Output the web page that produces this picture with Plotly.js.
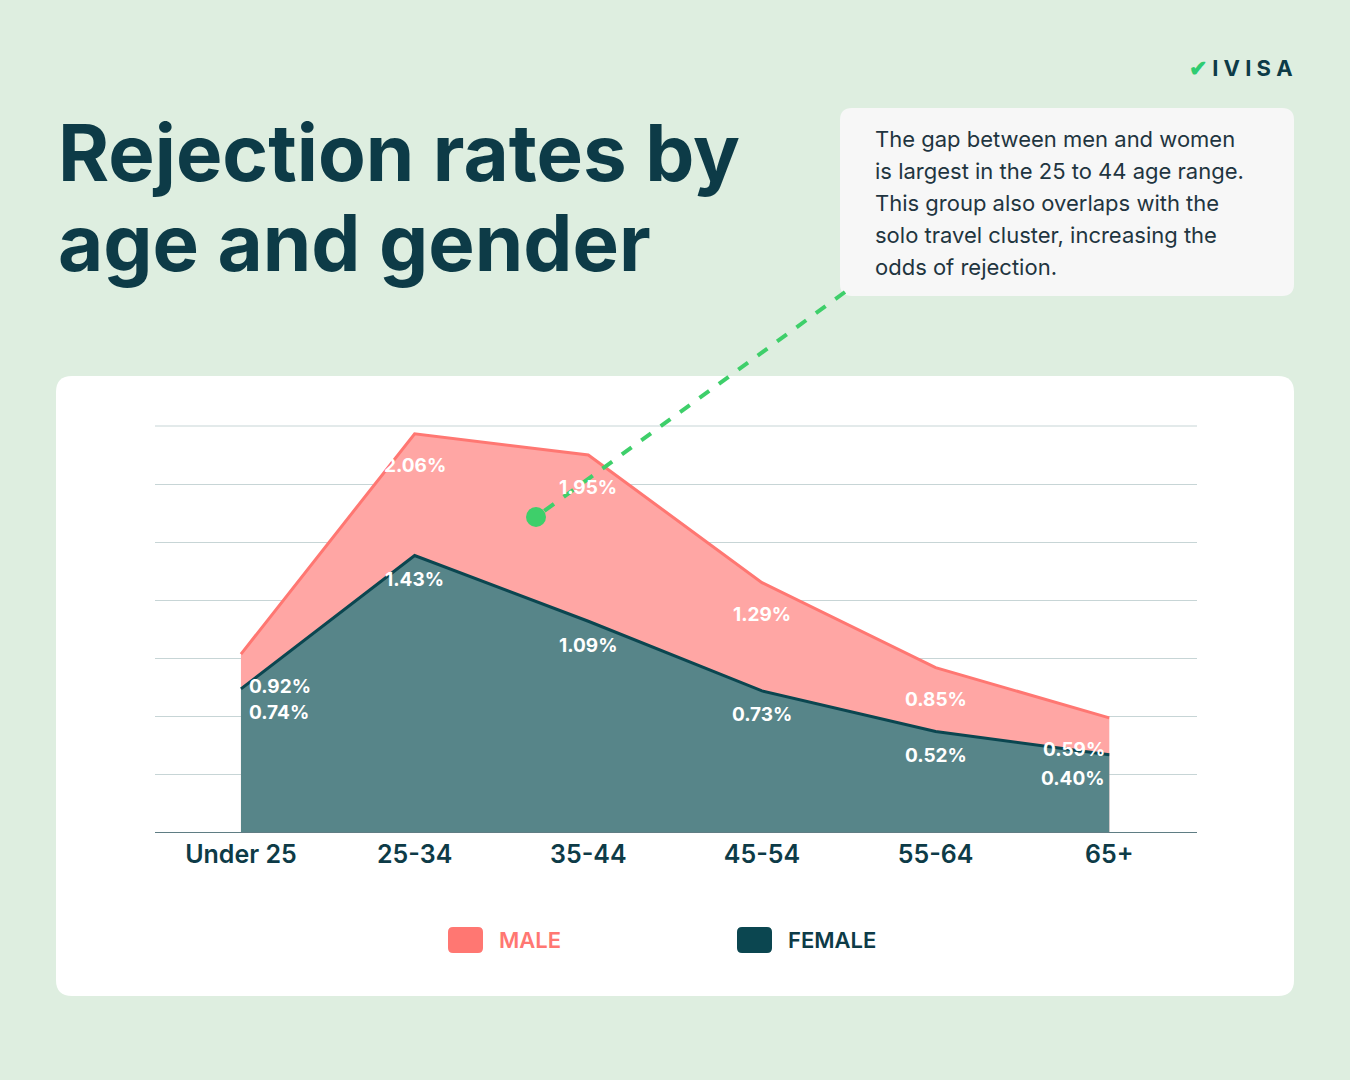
<!DOCTYPE html>
<html><head><meta charset="utf-8">
<script src="https://cdn.plot.ly/plotly-3.0.1.min.js"></script>
<style>body{margin:0;background:#deeee0}</style>
</head><body>
<div id="chart"></div>
<script>
// data
const ageGroups = ['Under 25', '25-34', '35-44', '45-54', '55-64', '65+'];
const maleRates = [0.92, 2.06, 1.95, 1.29, 0.85, 0.59];
const femaleRates = [0.74, 1.43, 1.09, 0.73, 0.52, 0.40];
const noteLines = ['The gap between men and women', 'is largest in the 25 to 44 age range.',
    'This group also overlaps with the', 'solo travel cluster, increasing the', 'odds of rejection.'];

// plot area in pixels: x 155..1197, y 426..832
const px = x => (x - 155) / 1042;
const py = y => (832 - y) / 406;
const FONT = 'Inter, "Noto Sans", sans-serif';
const DARK = '#0d3b47';

function roundRect(x0, y0, x1, y1, r, fill) {
    let a = px(x0), b = px(x1), c = py(y0), d = py(y1);
    let rx = r / 1042, ry = r / 406;
    let path = `M${a+rx},${c} L${b-rx},${c} Q${b},${c} ${b},${c-ry} L${b},${d+ry} Q${b},${d} ${b-rx},${d}` +
               ` L${a+rx},${d} Q${a},${d} ${a},${d+ry} L${a},${c-ry} Q${a},${c} ${a+rx},${c} Z`;
    return {type:'path', xref:'paper', yref:'paper', path:path, fillcolor:fill, line:{width:0}, layer:'below'};
}

let traces = [
    {x:ageGroups, y:maleRates, type:'scatter', mode:'lines', fill:'tozeroy',
     fillcolor:'#ffa6a4', line:{color:'#ff7772', width:3}, hoverinfo:'skip'},
    {x:ageGroups, y:femaleRates, type:'scatter', mode:'lines', fill:'tozeroy',
     fillcolor:'#578589', line:{color:'#0b4650', width:3}, hoverinfo:'skip'}
];

let annotations = [];
ageGroups.forEach((g, i) => {
    let anchor = i === 0 ? 'left' : (i === ageGroups.length - 1 ? 'right' : 'center');
    let xs = i === 0 ? 6 : (i === ageGroups.length - 1 ? -2 : 0);
    annotations.push({x:g, y:maleRates[i], text:maleRates[i].toFixed(2)+'%', showarrow:false,
        xanchor:anchor, xshift:xs, yshift:-32, font:{family:FONT, size:19, color:'white', weight:700}});
    annotations.push({x:g, y:femaleRates[i], text:femaleRates[i].toFixed(2)+'%', showarrow:false,
        xanchor:anchor, xshift:xs, yshift:-24, font:{family:FONT, size:19, color:'white', weight:700}});
});
['Rejection rates by', 'age and gender'].forEach((t, i) => {
    annotations.push({xref:'paper', yref:'paper', x:px(56), y:py(152 + i*90), xanchor:'left', yanchor:'middle',
        text:t, showarrow:false, font:{family:FONT, size:78, color:DARK, weight:700}});
});
noteLines.forEach((t, i) => {
    annotations.push({xref:'paper', yref:'paper', x:px(873), y:py(139 + i*32), xanchor:'left', yanchor:'middle',
        text:t, showarrow:false, font:{family:FONT, size:22, color:'#1f3540'}});
});
annotations.push(
    {xref:'paper', yref:'paper', x:px(1295), y:py(68), xanchor:'right', yanchor:'middle',
     text:'<span style="color:#2ecc71">✔</span> I V I S A', showarrow:false,
     font:{family:FONT, size:22, color:DARK, weight:700}},
    {xref:'paper', yref:'paper', x:px(497), y:py(940), xanchor:'left', yanchor:'middle',
     text:'MALE', showarrow:false, font:{family:FONT, size:22, color:'#ff7772', weight:600}},
    {xref:'paper', yref:'paper', x:px(786), y:py(940), xanchor:'left', yanchor:'middle',
     text:'FEMALE', showarrow:false, font:{family:FONT, size:22, color:DARK, weight:600}}
);

let shapes = [
    roundRect(56, 376, 1294, 996, 16, 'white'),
    roundRect(840, 108, 1294, 296, 12, '#f7f7f7'),
    roundRect(448, 927, 483, 953, 5, '#ff7772'),
    roundRect(737, 927, 772, 953, 5, '#0b4650'),
    {type:'line', xref:'paper', yref:'paper', x0:0, x1:1, y0:1, y1:1, layer:'below',
     line:{color:'#c7d5d6', width:1}},
    {type:'line', xref:'paper', yref:'paper', x0:px(845), y0:py(292), x1:px(536), y1:py(517),
     line:{color:'#3ecf6a', width:4, dash:'dash'}},
    {type:'circle', xref:'paper', yref:'paper', x0:px(526), y0:py(507), x1:px(546), y1:py(527),
     fillcolor:'#3ecf6a', line:{width:0}}
];

let layout = {
    width:1350, height:1080, autosize:false,
    margin:{l:155, r:153, t:426, b:248},
    paper_bgcolor:'#deeee0', plot_bgcolor:'rgba(0,0,0,0)',
    showlegend:false,
    xaxis:{range:[-0.495, 5.505], showgrid:false, zeroline:false, showline:true, linecolor:'#5f7d84',
           linewidth:1, ticks:'', tickfont:{family:FONT, size:25, color:DARK, weight:600}},
    yaxis:{range:[0, 2.1], tick0:0, dtick:0.3, showgrid:true, gridcolor:'#c7d5d6', zeroline:false,
           showticklabels:false, fixedrange:true},
    shapes:shapes, annotations:annotations
};
Plotly.newPlot('chart', traces, layout, {displayModeBar:false, staticPlot:true});
</script>
</body></html>
